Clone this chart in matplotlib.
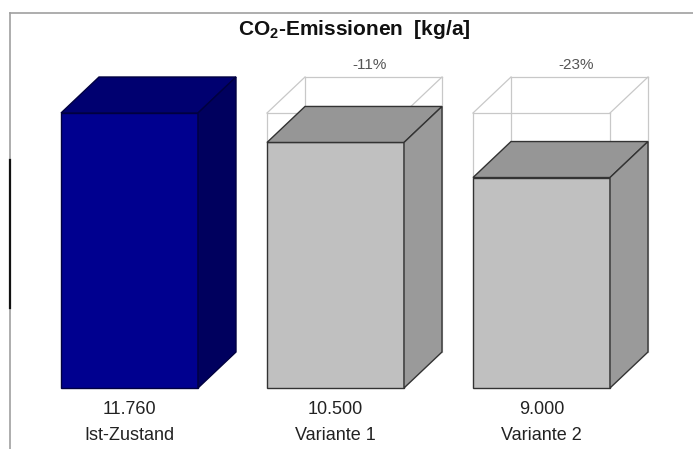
import matplotlib
matplotlib.use("Agg")
import matplotlib.pyplot as plt
from matplotlib.patches import Polygon

plt.rcParams['font.family'] = ['Liberation Sans', 'DejaVu Sans']

categories = ["Ist-Zustand", "Variante 1", "Variante 2"]
values = [11760, 10500, 9000]
value_labels = ["11.760", "10.500", "9.000"]
change_labels = [None, "-11%", "-23%"]

# colours: front, top, side
colors = [("#00008f", "#000070", "#00005e"),
          ("#c0c0c0", "#969696", "#9a9a9a"),
          ("#c0c0c0", "#969696", "#9a9a9a")]
edges = ["#000040", "#333333", "#333333"]

W, H = 693, 449
fig = plt.figure(figsize=(W / 100, H / 100), dpi=100)
ax = fig.add_axes([10 / W, 0, 1 - 10 / W, (H - 13) / H])

# pixel -> data scaling
px_x = 1 / 206.0
px_y = 11760 / 275.0
ax.set_xlim(-(129.5 - 10) * px_x, (693 - 129.5) * px_x)
ax.set_ylim(-(449 - 388) * px_y, (388 - 13) * px_y)

bw = 137 * px_x
dx = 38 * px_x
dy = 36 * px_y
ref = values[0]


def box(x0, h):
    x1 = x0 + bw
    front = [(x0, 0), (x1, 0), (x1, h), (x0, h)]
    top = [(x0, h), (x1, h), (x1 + dx, h + dy), (x0 + dx, h + dy)]
    side = [(x1, 0), (x1 + dx, dy), (x1 + dx, h + dy), (x1, h)]
    return front, top, side


for i, v in enumerate(values):
    x0 = i - bw / 2
    if i > 0:
        # ghost outline of the reference box
        x1 = x0 + bw
        lines = [[(x0, ref), (x1, ref)],
                 [(x0 + dx, ref + dy), (x1 + dx, ref + dy)],
                 [(x0, ref), (x0 + dx, ref + dy)],
                 [(x1, ref), (x1 + dx, ref + dy)],
                 [(x0 + dx, dy), (x0 + dx, ref + dy)],
                 [(x1 + dx, dy), (x1 + dx, ref + dy)],
                 [(x0, v), (x0, ref)],
                 [(x1, v), (x1, ref)]]
        for ln in lines:
            ax.plot([p[0] for p in ln], [p[1] for p in ln], color="#c8c8c8",
                    lw=0.9, zorder=1)
    f, t, s = box(x0, v)
    c = colors[i]
    ax.add_patch(Polygon(f, closed=True, fc=c[0], ec=edges[i], lw=1.0, zorder=2))
    ax.add_patch(Polygon(t, closed=True, fc=c[1], ec=edges[i], lw=1.0, zorder=2))
    ax.add_patch(Polygon(s, closed=True, fc=c[2], ec=edges[i], lw=1.0, zorder=2))

    ax.text(i, -22 * px_y, value_labels[i], ha="center", va="center",
            fontsize=13, color="#222222")
    ax.text(i, -48 * px_y, categories[i], ha="center", va="center",
            fontsize=13, color="#222222")
    if change_labels[i]:
        ax.text(i + dx * 0.9, ref + dy + 12 * px_y, change_labels[i],
                ha="center", va="center", fontsize=11, color="#555555")

ax.text(354 * px_x - (129.5 * px_x), (388 - 29) * px_y,
        r"CO$_\mathregular{2}$-Emissionen  [kg/a]", ha="center", va="center",
        fontsize=15, fontweight="bold", color="#111111")

ax.set_xticks([])
ax.set_yticks([])
for side in ["right", "bottom"]:
    ax.spines[side].set_visible(False)
for side in ["top", "left"]:
    ax.spines[side].set_color("#a0a0a0")
    ax.spines[side].set_linewidth(1.2)

# dark stretch on the left frame line
ax.plot([ax.get_xlim()[0]] * 2, [(388 - 308) * px_y, (388 - 160) * px_y],
        color="#111111", lw=1.6, clip_on=False, zorder=5)

fig.savefig("out.png", dpi=100)
